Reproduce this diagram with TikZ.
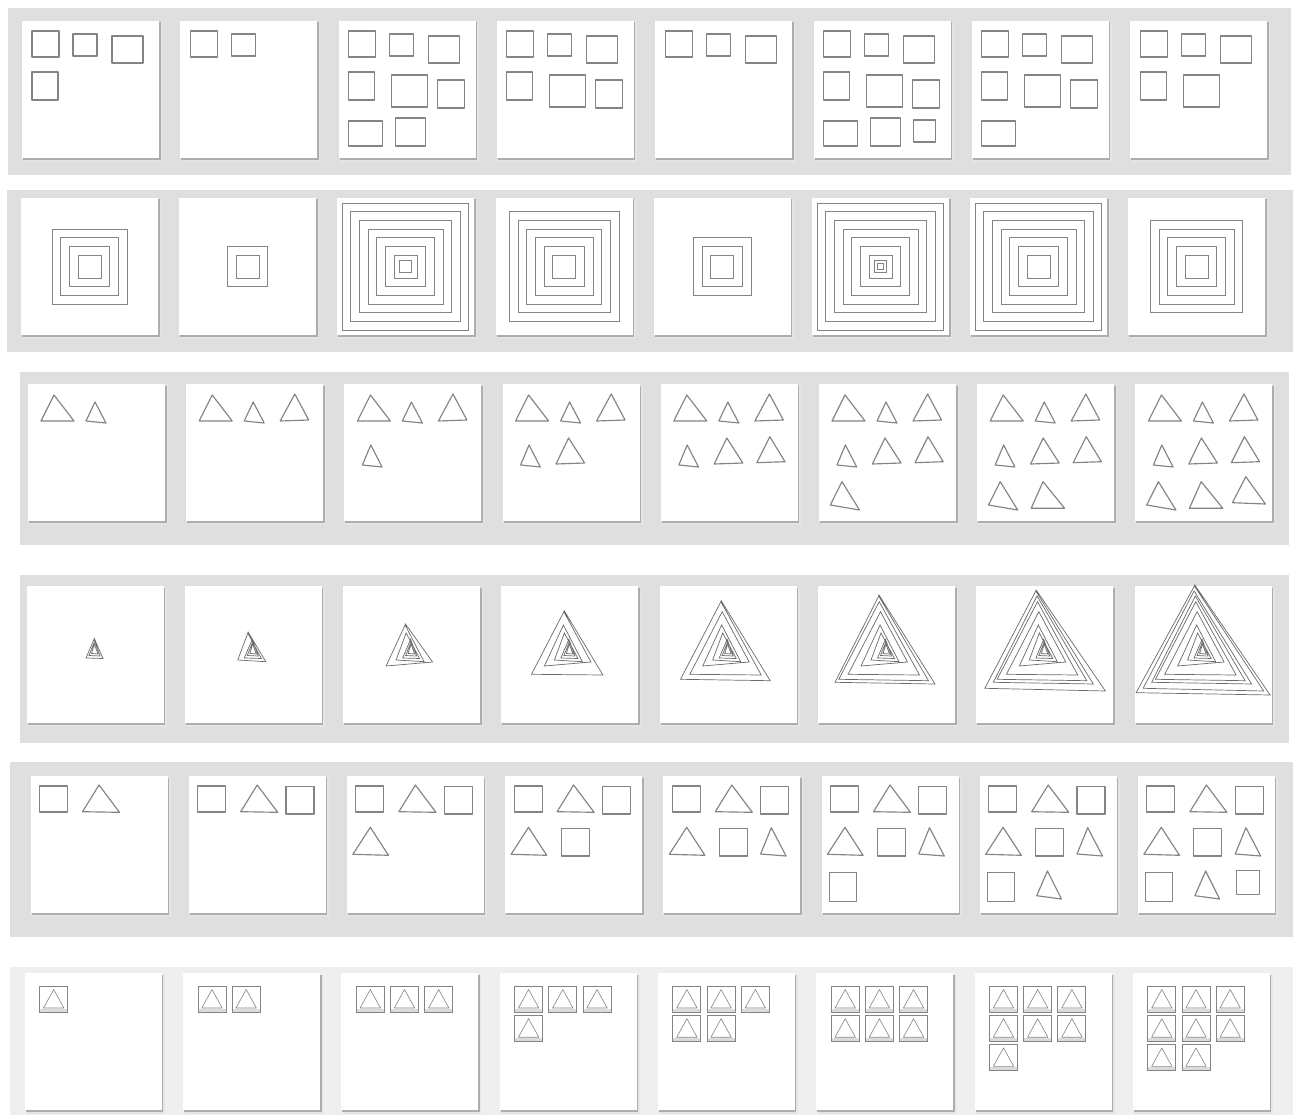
\documentclass[tikz,border=0pt]{standalone}
\definecolor{bandgray}{HTML}{DFDFDF}
\definecolor{bandlight}{HTML}{EFEFEF}
\definecolor{shapegray}{HTML}{848484}
\definecolor{spigray}{HTML}{6A6A6A}
\tikzset{
  band/.style={fill=bandgray},
  bandlt/.style={fill=bandlight},
  shp/.style={draw=shapegray, line width=1.15pt, line join=round},
  sqc/.style={draw=shapegray, line width=1.0pt},
  spi/.style={draw=spigray, line width=0.7pt, line join=miter},
  cbox/.style={draw=shapegray, line width=0.9pt},
  ctri/.style={draw=shapegray, line width=0.6pt, line join=round},
}
\newcommand\pnl[2]{%
  \fill[black!10] ({#1+1.5},{#2+2}) rectangle ({#1+140},{#2+141});
  \fill[black!32] ({#1+1},{#2+1.5}) rectangle ({#1+138.5},{#2+139.2});
  \fill[white] (#1,#2) rectangle ({#1+137},{#2+137});
}
\def\turnlist{-1/645.5/-3.5/653.5/3/654, -1/643/-6/655.5/5/656, -1/639.3/-9/658/8/658.5, -5.5/633/-15.5/660/12.5/661.7, -6.5/625/-25.5/666/21/662, -6/611.7/-38.4/674.3/33/675, -7.3/601.7/-47.7/679.3/42/680.7, -7.8/596/-51.5/682.3/48.5/684, -9/591/-60/688.3/60.6/691, -8.7/586/-67/692.7/67/695}
\newcommand\spiral[2]{%
  \gdef\spath{}%
  \foreach \sax/\say/\slx/\sly/\srx/\sry [count=\tn] in \turnlist {%
    \ifnum\tn>#2\relax\else
      \pgfmathsetmacro\qa{#1+\sax}%
      \pgfmathsetmacro\qb{#1+\slx}%
      \pgfmathsetmacro\qc{#1+\srx}%
      \xdef\spath{\spath (\qa,\say) (\qb,\sly) (\qc,\sry)}%
      \ifnum\tn=#2\relax
        \pgfmathsetmacro\qe{\say-1.5}%
        \xdef\spath{\spath (\qa,\qe)}%
      \fi
    \fi
  }%
  \draw[spi] plot coordinates {\spath};
}
\begin{document}
\begin{tikzpicture}[x=1pt,y=-1pt]
\useasboundingbox (0,0) rectangle (1293,1115);
\fill[white] (0,0) rectangle (1293,1115);
% bands
\fill[band] (8,8) rectangle (1291,175);
\fill[band] (7,190) rectangle (1293,352);
\fill[band] (20,372) rectangle (1289,545);
\fill[band] (20,575) rectangle (1289,743);
\fill[band] (10,762) rectangle (1293,937);
\fill[bandlt] (10,967) rectangle (1293,1115);
% row 1
\foreach \nn [count=\ii from 0] in {4,2,8,6,3,9,7,5}{
  \pgfmathsetmacro\px{22+158.3*\ii}
  \pnl{\px}{21}
  \foreach \ua/\ub/\uc/\ud [count=\kk] in {10/10/37/36, 51/13/75/35, 90/15/121/42, 10/51/36/79, 53/54/89/86, 99/59/126/87, 10/100/44/125, 57/97/87/125, 100/99/122/121}{
    \ifnum\kk>\nn\relax\else
      \draw[shp] ({\px+\ua},{21+\ub}) rectangle ({\px+\uc},{21+\ud});
    \fi
  }
}
% row 2
\foreach \lo/\hi [count=\ii from 0] in {2/5,2/3,1/8,2/7,2/4,0/8,2/8,2/6}{
  \pgfmathsetmacro\px{21+158.2*\ii}
  \pnl{\px}{198}
  \pgfmathsetmacro\cx{\px+68.5}
  \foreach \s [count=\kk from 0] in {6,12,23,40,58,75,92,110,126}{
    \ifnum\kk<\lo\relax\else\ifnum\kk>\hi\relax\else
      \draw[sqc] ({\cx-\s/2},{267-\s/2}) rectangle ({\cx+\s/2},{267+\s/2});
    \fi\fi
  }
}
% row 3
\foreach \ii in {0,...,7}{
  \pgfmathsetmacro\px{28+158.2*\ii}
  \pgfmathtruncatemacro\nn{\ii+2}
  \pnl{\px}{384}
  \foreach \ua/\ub/\uc/\ud/\ue/\uf [count=\kk] in {26/11/13/37/46/37, 67/18/58/37/78/39, 108.6/10/94/37/122.5/36, 26.4/61/18/81/37.7/83, 66/54/53.4/80/82/79, 109/52.7/96/78.7/124.2/77.7, 23/97.7/11.3/121/40.5/126, 65.8/97.7/54/124.3/87.4/124.3, 110.4/92.7/97/118.7/130/120}{
    \ifnum\kk>\nn\relax\else
      \draw[shp] ({\px+\ua},{384+\ub}) -- ({\px+\uc},{384+\ud}) -- ({\px+\ue},{384+\uf}) -- cycle;
    \fi
  }
}
% row 4
\foreach \ii in {0,...,7}{
  \pgfmathsetmacro\px{26.5+158.3*\ii}
  \pnl{\px}{586}
  \pgfmathsetmacro\cx{\px+68.5}
  \pgfmathtruncatemacro\TT{\ii+3}
  \spiral{\cx}{\TT}
}
% row 5
\foreach \ii in {0,...,7}{
  \pgfmathsetmacro\px{30.5+158.2*\ii}
  \pgfmathtruncatemacro\nn{\ii+2}
  \pnl{\px}{776}
  \foreach \ty/\ua/\ub/\uc/\ud/\ue/\uf [count=\kk] in {s/9/10/37/36/0/0, t/68.5/9/52/35.7/89/36.3, s/97.3/10.7/125.3/38/0/0, t/23.4/51.3/6/78.3/41.6/79.3, s/56/52.6/84/80/0/0, t/108/51.7/97.3/78/122.8/80, s/7.7/96.7/35/125.7/0/0, t/67.7/95/57/119.7/81.7/123, s/99/94.7/122/118.3/0/0}{
    \ifnum\kk>\nn\relax\else
      \if s\ty
        \draw[shp] ({\px+\ua},{776+\ub}) rectangle ({\px+\uc},{776+\ud});
      \else
        \draw[shp] ({\px+\ua},{776+\ub}) -- ({\px+\uc},{776+\ud}) -- ({\px+\ue},{776+\uf}) -- cycle;
      \fi
    \fi
  }
}
% row 6
\foreach \ii in {0,...,7}{
  \pgfmathsetmacro\px{24.7+158.3*\ii}
  \pnl{\px}{973}
  \foreach \mm in {0,...,\ii}{
    \pgfmathtruncatemacro\bcol{mod(\mm,3)}
    \pgfmathtruncatemacro\brow{floor(\mm/3)}
    \pgfmathsetmacro\bx{\px+15+34.2*\bcol}
    \pgfmathsetmacro\by{986+29.2*\brow}
    \fill[black!14] ({\bx},{\by+23}) rectangle ({\bx+28},{\by+26.5});
    \draw[cbox] (\bx,\by) rectangle ({\bx+28},{\by+26.5});
    \draw[ctri] ({\bx+14},{\by+3.5}) -- ({\bx+3.8},{\by+22}) -- ({\bx+24.2},{\by+22}) -- cycle;
  }
}
\end{tikzpicture}
\end{document}
